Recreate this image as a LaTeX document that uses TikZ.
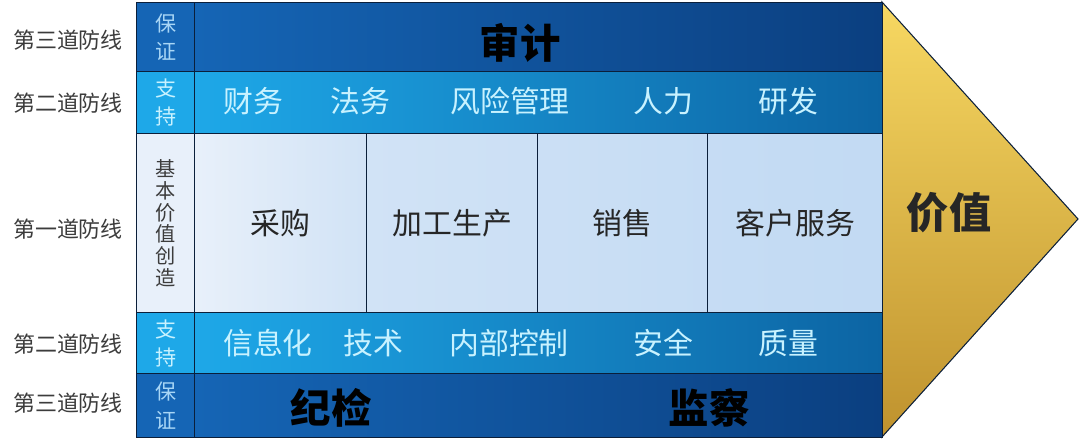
\documentclass[tikz,border=0pt]{standalone}
\usepackage{fontspec}
\setmainfont{Noto Sans CJK SC}
\usepackage{tikz}
\usetikzlibrary{positioning}
\definecolor{linecol}{HTML}{0B1F3A}
\definecolor{darkA}{HTML}{1565B5}
\definecolor{darkB}{HTML}{0B3F80}
\definecolor{cyanA}{HTML}{1EA8E8}
\definecolor{cyanB}{HTML}{0C64A3}
\definecolor{paleA}{HTML}{E8F0FA}
\definecolor{paleB}{HTML}{C2DAF3}
\definecolor{goldA}{HTML}{F7D862}
\definecolor{goldB}{HTML}{E4BA46}
\definecolor{goldC}{HTML}{BF922E}
\definecolor{sidetext}{HTML}{3C3C3C}
\definecolor{lighttext}{HTML}{C8F2FF}
\definecolor{coltext}{HTML}{A8D6F6}
\newcommand\sidefont{\fontsize{12.5}{15}\selectfont}
\newcommand\colfont{\fontsize{12}{16}\selectfont}
\newcommand\itemfont{\fontsize{17}{20}\selectfont}
\newcommand\bigfont{\fontsize{23}{26}\selectfont\bfseries}
\tikzset{
 cell/.style={draw=linecol,line width=0.8pt,anchor=north west,inner sep=0pt},
 sidelabel/.style={font=\sidefont,text=sidetext},
 rowitem/.style={font=\itemfont,text=lighttext},
 biglabel/.style={font=\bigfont,text=black}
}

\begin{document}
\begin{tikzpicture}[x=0.02cm,y=-0.02cm]
 \useasboundingbox (0,0) rectangle (1080,444);
 % value arrow
 \shade[draw=linecol,line width=0.6pt,top color=goldA,middle color=goldB,bottom color=goldC] (882,2) -- (1078,219) -- (882,437) -- cycle;
 \node[font=\fontsize{24}{28}\selectfont\bfseries,text=black!85] (value) at (949,213) {价值};

 % third line (top)
 \node[cell,fill=darkA,minimum width=1.16cm,minimum height=1.38cm,text=coltext,font=\colfont,align=center] (guardA) at (136,2) {保\\证};
 \node[cell,left color=darkA,right color=darkB,minimum width=13.76cm,minimum height=1.38cm] (audit) at (194,2) {};
 \node[biglabel] (auditlabel) at (520,43) {审计};

 % second line (top)
 \node[cell,fill=cyanA,minimum width=1.16cm,minimum height=1.24cm,text=lighttext,font=\colfont,align=center] (supportA) at (136,71) {支\\持};
 \node[cell,left color=cyanA,right color=cyanB,minimum width=13.76cm,minimum height=1.24cm] (staff) at (194,71) {};
 \node[rowitem] (finance) at (253,101) {财务};
 \node[rowitem] (legal) at (360,101) {法务};
 \node[rowitem] (risk) at (510,101) {风险管理};
 \node[rowitem] (hr) at (663,101) {人力};
 \node[rowitem] (rnd) at (788,101) {研发};

 % first line
 \node[cell,fill=paleA,minimum width=1.16cm,minimum height=3.58cm,text=sidetext,font=\fontsize{11.5}{12.4}\selectfont,align=center] (core) at (136,133) {基\\本\\价\\值\\创\\造};
 \node[cell,left color=paleA,right color=paleB!60!paleA,minimum width=3.44cm,minimum height=3.58cm,font=\itemfont,text=black!85] (buy) at (194,133) {采购};
 \node[cell,left color=paleB!60!paleA,right color=paleB!75!paleA,minimum width=3.42cm,minimum height=3.58cm,font=\itemfont,text=black!85] (make) at (366,133) {加工生产};
 \node[cell,left color=paleB!75!paleA,right color=paleB!90!paleA,minimum width=3.40cm,minimum height=3.58cm,font=\itemfont,text=black!85] (sell) at (537,133) {销售};
 \node[cell,left color=paleB!90!paleA,right color=paleB,minimum width=3.50cm,minimum height=3.58cm,font=\itemfont,text=black!85] (service) at (707,133) {客户服务};

 % second line (bottom)
 \node[cell,fill=cyanA,minimum width=1.16cm,minimum height=1.22cm,text=lighttext,font=\colfont,align=center] (supportB) at (136,312) {支\\持};
 \node[cell,left color=cyanA,right color=cyanB,minimum width=13.76cm,minimum height=1.22cm] (tech) at (194,312) {};
 \node[rowitem] (it) at (268,343) {信息化};
 \node[rowitem] (skill) at (373,343) {技术};
 \node[rowitem] (control) at (509,343) {内部控制};
 \node[rowitem] (safety) at (663,343) {安全};
 \node[rowitem] (quality) at (788,343) {质量};

 % third line (bottom)
 \node[cell,fill=darkA,minimum width=1.16cm,minimum height=1.28cm,text=coltext,font=\colfont,align=center] (guardB) at (136,373) {保\\证};
 \node[cell,left color=darkA,right color=darkB,minimum width=13.76cm,minimum height=1.28cm] (watch) at (194,373) {};
 \node[biglabel] (discipline) at (331,408) {纪检};
 \node[biglabel] (inspect) at (709,408) {监察};

 % line names
 \node[sidelabel] (lineA) at (68,40) {第三道防线};
 \node[sidelabel] (lineB) at (68,103) {第二道防线};
 \node[sidelabel] (lineC) at (68,229) {第一道防线};
 \node[sidelabel] (lineD) at (68,344) {第二道防线};
 \node[sidelabel] (lineE) at (68,403) {第三道防线};
\end{tikzpicture}
\end{document}
